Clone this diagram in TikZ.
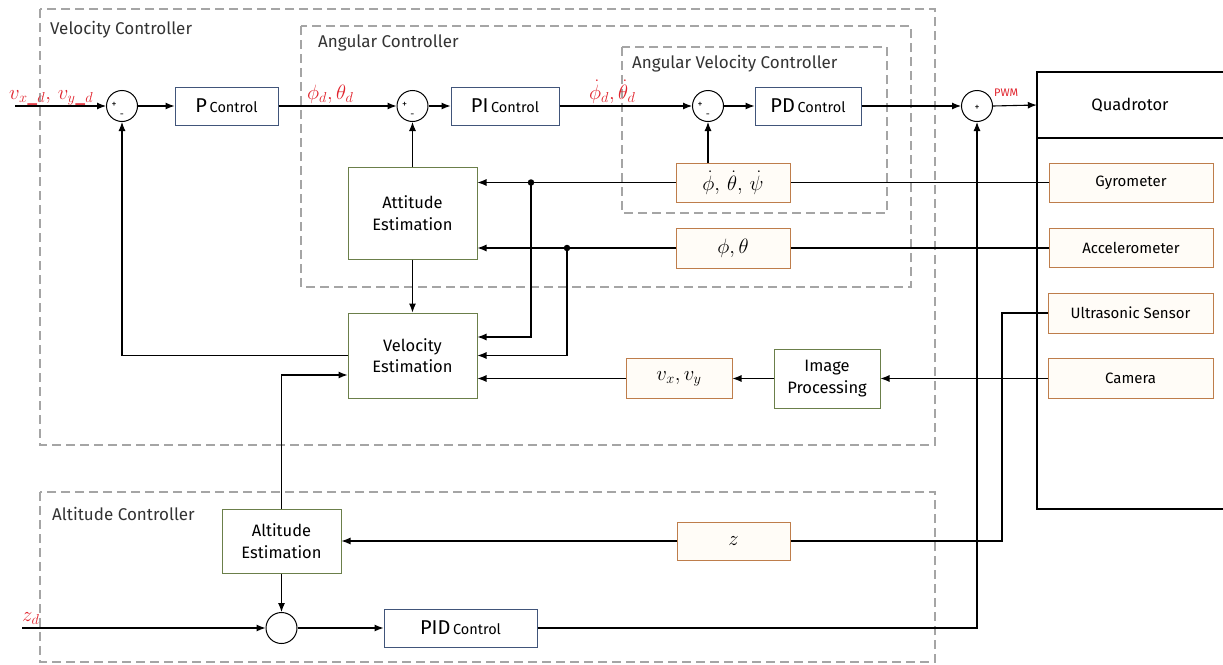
\documentclass[tikz,border=0pt]{standalone}
\usepackage{fontspec}
\setmainfont{Fira Sans}
\usetikzlibrary{arrows.meta}
\definecolor{bluebd}{RGB}{65,85,122}
\definecolor{greenbd}{RGB}{107,127,74}
\definecolor{orangebd}{RGB}{190,125,75}
\definecolor{orangefill}{RGB}{255,252,247}
\definecolor{dashgray}{RGB}{165,165,165}
\definecolor{lblred}{RGB}{225,35,45}
\newcommand\ftxt{\fontsize{15}{21}\selectfont}
\newcommand\fgrn{\fontsize{16.5}{21.5}\selectfont}
\newcommand\fgrp{\fontsize{17}{20}\selectfont}
\newcommand\fbig{\fontsize{20}{22}\selectfont}
\newcommand\fsml{\fontsize{14.5}{16}\selectfont}
\newcommand\fmth{\fontsize{20}{22}\selectfont}
\newcommand\fred{\fontsize{21.5}{24}\selectfont}
\newcommand\fsgn{\fontsize{10}{11}\selectfont}
\tikzset{
  blk/.style={draw=bluebd, line width=1pt, minimum height=38pt, inner sep=0pt},
  grn/.style={draw=greenbd, line width=1pt, inner sep=0pt, align=center, font=\fgrn},
  org/.style={draw=orangebd, fill=orangefill, line width=1pt, inner sep=0pt, font=\ftxt},
  sumc/.style={circle, draw, line width=1pt, minimum size=31pt, inner sep=0pt},
  arr/.style={-{Latex[length=9pt,width=7pt]}, line width=1.1pt},
  ln/.style={line width=1.1pt},
  grp/.style={draw=dashgray, dash pattern=on 9pt off 5pt, line width=1.1pt},
  grplbl/.style={anchor=west, font=\fgrp, text=black!80, inner sep=0pt},
  dotj/.style={circle, fill, inner sep=0pt, minimum size=6.5pt},
  rlbl/.style={text=lblred, inner sep=0pt},
  sgn/.style={font=\fsgn, inner sep=0pt}
}
\begin{document}
\begin{tikzpicture}[x=1pt,y=-1pt]
\useasboundingbox[fill=white] (0,0) rectangle (1223,664);

% group frames
\draw[grp] (40,9) rectangle (935,445);
\draw[grp] (301,26) rectangle (911,287);
\draw[grp] (622,47) rectangle (887,213);
\draw[grp] (40,492) rectangle (935,662);
\node[grplbl] (lvc) at (50,30) {Velocity Controller};
\node[grplbl] (lac) at (318,43) {Angular Controller};
\node[grplbl] (lavc) at (632,64) {Angular Velocity Controller};
\node[grplbl] (lalt) at (52,514) {Altitude Controller};

% quadrotor
\node[minimum width=186pt, minimum height=66pt, inner sep=0pt, font=\fontsize{16.5}{20}\selectfont] (quad) at (1130,105) {Quadrotor};
\draw[line width=1.1pt] (1223,72) -- (1037,72) -- (1037,509) -- (1223,509);
\draw[line width=1.1pt] (1037,138) -- (1223,138);

% sensors
\node[org, minimum width=164pt, minimum height=39pt] (gyro) at (1131,182.5) {Gyrometer};
\node[org, minimum width=164pt, minimum height=39pt] (accel) at (1131,248) {Accelerometer};
\node[org, minimum width=165pt, minimum height=40pt] (ultra) at (1130.5,313) {Ultrasonic Sensor};
\node[org, minimum width=165pt, minimum height=40pt] (camera) at (1130.5,378.5) {Camera};

% main chain
\node[sumc] (sum1) at (122,106) {};
\node[blk, minimum width=103pt] (P) at (226.5,106) {{\fbig P} {\fsml Control}};
\node[sumc] (sum2) at (412.5,106) {};
\node[blk, minimum width=108pt] (PI) at (505,106) {{\fbig PI} {\fsml Control}};
\node[sumc] (sum3) at (708,106) {};
\node[blk, minimum width=106pt] (PD) at (808,106) {{\fbig PD} {\fsml Control}};
\node[sumc] (sumQ) at (977,106) {};

\node[sgn] (s1p) at (114,105) {+};
\node[sgn] (s1m) at (122,116) {-};
\node[sgn] (s2p) at (404.5,105) {+};
\node[sgn] (s2m) at (412.5,116) {-};
\node[sgn] (s3p) at (700,105) {+};
\node[sgn] (s3m) at (708,116) {-};
\node[sgn] (sQp) at (977,108) {+};

% estimation and measurement boxes
\node[org, minimum width=114pt, minimum height=39pt] (dotphi) at (733,182.5) {\fmth$\dot\phi,\,\dot\theta,\,\dot\psi$};
\node[org, minimum width=114pt, minimum height=40pt] (phitheta) at (733,248) {\fmth$\phi, \theta$};
\node[grn, minimum width=129pt, minimum height=92pt] (att) at (412.5,213) {Attitude\\Estimation};
\node[grn, minimum width=129pt, minimum height=85pt] (vel) at (412.5,355.5) {Velocity\\Estimation};
\node[org, minimum width=106pt, minimum height=40pt] (vxvy) at (679,378.5) {\fmth$v_x, v_y$};
\node[grn, minimum width=106pt, minimum height=59pt] (IP) at (827,378.5) {Image\\Processing};
\node[grn, minimum width=119pt, minimum height=64pt] (altest) at (281.5,541) {Altitude\\Estimation};
\node[org, minimum width=113pt, minimum height=38pt] (z) at (733.5,541) {\fmth$z$};
\node[sumc] (sum4) at (281.5,628) {};
\node[blk, minimum width=153pt] (PID) at (460.5,628) {{\fbig PID} {\fsml Control}};

\node[dotj] (d1) at (531,182.5) {};
\node[dotj] (d2) at (567,248) {};

% red labels
\node[rlbl, anchor=base west] (lv) at (9,99) {\fmth$v_{x\_d},\,v_{y\_d}$};
\node[rlbl, anchor=base west] (lphi) at (307,99) {\fred$\phi_d, \theta_d$};
\node[rlbl, anchor=base west] (ldphi) at (589,99) {\fred$\dot\phi_d, \dot\theta_d$};
\node[rlbl, anchor=base west, font=\fontsize{11}{12}\selectfont] (lpwm) at (994,96) {PWM};
\node[rlbl, anchor=base west] (lzd) at (22,621) {\fred$z_d$};

% coordinates
\coordinate (vin) at (15,106);
\coordinate (zin) at (22,628);
\coordinate (uc) at (1002,541);
\coordinate (pc) at (977,628);

% connectors
\draw[arr] (vin) -- (sum1.west);
\draw[arr] (sum1.east) -- (P.west);
\draw[arr] (P.east) -- (sum2.west);
\draw[arr] (sum2.east) -- (PI.west);
\draw[arr] (PI.east) -- (sum3.west);
\draw[arr] (sum3.east) -- (PD.west);
\draw[arr] (PD.east) -- (sumQ.west);
\draw[arr] (sumQ.east) -- (quad.west);

\draw[arr] (vel.west) -| (sum1.south);
\draw[arr] (att.north) -- (sum2.south);
\draw[arr] (sum3.south |- dotphi.north) -- (sum3.south);
\draw[arr] (dotphi.west) -- (att.east |- dotphi.west);
\draw[arr] (phitheta.west) -- (att.east |- phitheta.west);
\draw[arr] (d1.center) |- ([yshift=18.5pt]vel.east);
\draw[arr] (d2.center) |- (vel.east);
\draw[arr] (vxvy.west) -- (vel.east |- vxvy.west);
\draw[arr] (att.south) -- (vel.north);
\draw[ln] (gyro.west) -- (dotphi.east);
\draw[ln] (accel.west) -- (phitheta.east);
\draw[arr] (camera.west) -- (IP.east);
\draw[arr] (IP.west) -- (vxvy.east);
\draw[ln] (ultra.west) -| (uc) -- (z.east);
\draw[arr] (z.west) -- (altest.east |- z.west);
\draw[arr] (altest.north) |- ([yshift=-19.5pt]vel.west);
\draw[arr] (altest.south) -- (sum4.north);
\draw[arr] (zin) -- (sum4.west);
\draw[arr] (sum4.east) -- (PID.west);
\draw[arr] (PID.east) -- (pc) -- (sumQ.south);
\end{tikzpicture}
\end{document}
